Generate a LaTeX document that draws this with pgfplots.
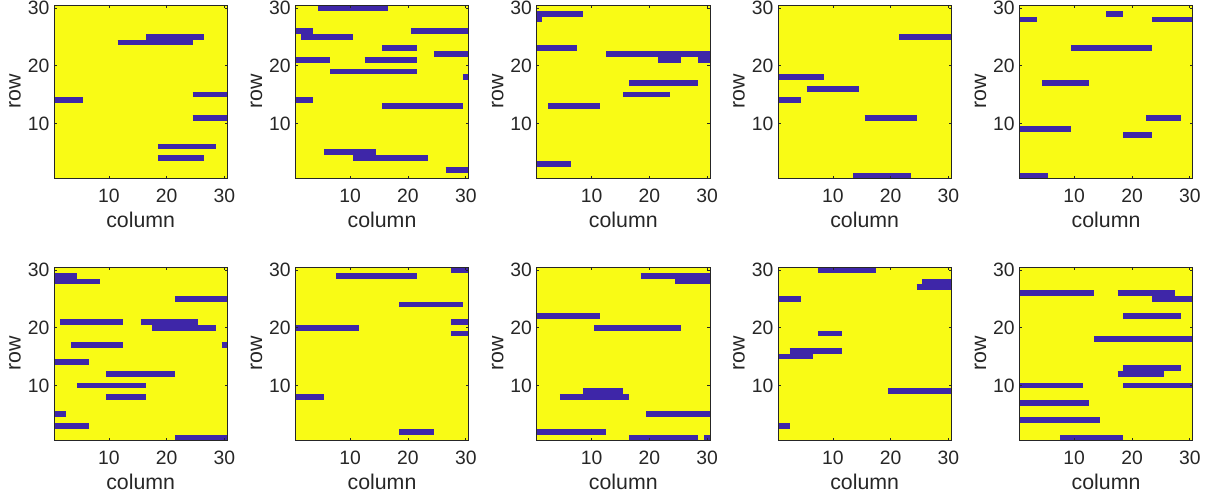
\documentclass[border=0pt]{standalone}
\usepackage{pgfplots}
\pgfplotsset{compat=1.18}
\usepackage{fontspec}
\setmainfont{Liberation Sans}

\definecolor{parulaY}{rgb}{0.9769,0.9839,0.0805}
\definecolor{parulaB}{rgb}{0.2422,0.1504,0.6603}
\definecolor{axgray}{rgb}{0.15,0.15,0.15}

% one run of "on" cells in a row: \run{row}{left edge}{right edge}
% the stroke is one cell tall (130pt / 30 cells)
\newcommand{\run}[3]{\addplot[draw=parulaB, line width=4.36pt, line cap=butt, mark=none, forget plot] coordinates {(#2,#1) (#3,#1)};}

\pgfplotsset{
  panel/.style={
    scale only axis, width=130pt, height=130pt, anchor=south west,
    xmin=0.5, xmax=30.5, ymin=0.5, ymax=30.5,
    xtick={10,20,30}, ytick={10,20,30},
    tick align=inside, major tick length=2pt,
    axis on top,
    axis background/.style={fill=parulaY},
    axis line style={draw=axgray, line width=0.5pt},
    every tick/.style={draw=axgray, line width=0.5pt},
    /pgf/number format/assume math mode=true,
    tick label style={font=\fontsize{14.5}{16}\selectfont, color=axgray},
    xticklabel style={anchor=base, yshift=-18pt},
    xlabel={column}, ylabel={row},
    xlabel style={at={([yshift=-36.5pt]axis description cs:0.5,0)}, anchor=base, font=\fontsize{16}{18}\selectfont, color=axgray},
    ylabel style={at={([xshift=-25pt]axis description cs:0,0.5)}, anchor=base, font=\fontsize{16}{18}\selectfont, color=axgray},
  },
}

\begin{document}
\begin{tikzpicture}
\useasboundingbox (0,0) rectangle (918pt,372.75pt);

% ---------------- top row ----------------
\begin{axis}[panel, at={(40.5pt,239pt)}]
\run{25}{16.5}{26.5}
\run{24}{11.5}{24.5}
\run{15}{24.5}{30.5}
\run{14}{0.5}{5.5}
\run{11}{24.5}{30.5}
\run{6}{18.5}{28.5}
\run{4}{18.5}{26.5}
\end{axis}

\begin{axis}[panel, at={(221.5pt,239pt)}]
\run{30}{4.5}{16.5}
\run{26}{0.5}{3.5}
\run{26}{20.5}{30.5}
\run{25}{1.5}{10.5}
\run{23}{15.5}{21.5}
\run{22}{24.5}{30.5}
\run{21}{0.5}{6.5}
\run{21}{12.5}{21.5}
\run{19}{6.5}{21.5}
\run{18}{29.5}{30.5}
\run{14}{0.5}{3.5}
\run{13}{15.5}{29.5}
\run{5}{5.5}{14.5}
\run{4}{10.5}{23.5}
\run{2}{26.5}{30.5}
\end{axis}

\begin{axis}[panel, at={(402.5pt,239pt)}]
\run{29}{0.5}{8.5}
\run{28}{0.5}{1.5}
\run{23}{0.5}{7.5}
\run{22}{12.5}{30.5}
\run{21}{21.5}{25.5}
\run{21}{28.5}{30.5}
\run{17}{16.5}{28.5}
\run{15}{15.5}{23.5}
\run{13}{2.5}{11.5}
\run{3}{0.5}{6.5}
\end{axis}

\begin{axis}[panel, at={(583.5pt,239pt)}]
\run{25}{21.5}{30.5}
\run{18}{0.5}{8.5}
\run{16}{5.5}{14.5}
\run{14}{0.5}{4.5}
\run{11}{15.5}{24.5}
\run{1}{13.5}{23.5}
\end{axis}

\begin{axis}[panel, at={(764.5pt,239pt)}]
\run{29}{15.5}{18.5}
\run{28}{0.5}{3.5}
\run{28}{23.5}{30.5}
\run{23}{9.5}{23.5}
\run{17}{4.5}{12.5}
\run{11}{22.5}{28.5}
\run{9}{0.5}{9.5}
\run{8}{18.5}{23.5}
\run{1}{0.5}{5.5}
\end{axis}

% ---------------- bottom row ----------------
\begin{axis}[panel, at={(40.5pt,42.5pt)}]
\run{29}{0.5}{4.5}
\run{28}{0.5}{8.5}
\run{25}{21.5}{30.5}
\run{21}{1.5}{12.5}
\run{21}{15.5}{25.5}
\run{20}{17.5}{28.5}
\run{17}{3.5}{12.5}
\run{17}{29.5}{30.5}
\run{14}{0.5}{6.5}
\run{12}{9.5}{21.5}
\run{10}{4.5}{16.5}
\run{8}{9.5}{16.5}
\run{5}{0.5}{2.5}
\run{3}{0.5}{6.5}
\run{1}{21.5}{30.5}
\end{axis}

\begin{axis}[panel, at={(221.5pt,42.5pt)}]
\run{30}{27.5}{30.5}
\run{29}{7.5}{21.5}
\run{24}{18.5}{29.5}
\run{21}{27.5}{30.5}
\run{20}{0.5}{11.5}
\run{19}{27.5}{30.5}
\run{8}{0.5}{5.5}
\run{2}{18.5}{24.5}
\end{axis}

\begin{axis}[panel, at={(402.5pt,42.5pt)}]
\run{29}{18.5}{30.5}
\run{28}{24.5}{30.5}
\run{22}{0.5}{11.5}
\run{20}{10.5}{25.5}
\run{9}{8.5}{15.5}
\run{8}{4.5}{16.5}
\run{5}{19.5}{30.5}
\run{2}{0.5}{12.5}
\run{1}{16.5}{28.5}
\run{1}{29.5}{30.5}
\end{axis}

\begin{axis}[panel, at={(583.5pt,42.5pt)}]
\run{30}{7.5}{17.5}
\run{28}{25.5}{30.5}
\run{27}{24.5}{30.5}
\run{25}{0.5}{4.5}
\run{19}{7.5}{11.5}
\run{16}{2.5}{11.5}
\run{15}{0.5}{6.5}
\run{9}{19.5}{30.5}
\run{3}{0.5}{2.5}
\end{axis}

\begin{axis}[panel, at={(764.5pt,42.5pt)}]
\run{26}{0.5}{13.5}
\run{26}{17.5}{27.5}
\run{25}{23.5}{30.5}
\run{22}{18.5}{28.5}
\run{18}{13.5}{30.5}
\run{13}{18.5}{28.5}
\run{12}{17.5}{25.5}
\run{10}{0.5}{11.5}
\run{10}{18.5}{30.5}
\run{7}{0.5}{12.5}
\run{4}{0.5}{14.5}
\run{1}{7.5}{18.5}
\end{axis}
\end{tikzpicture}
\end{document}
